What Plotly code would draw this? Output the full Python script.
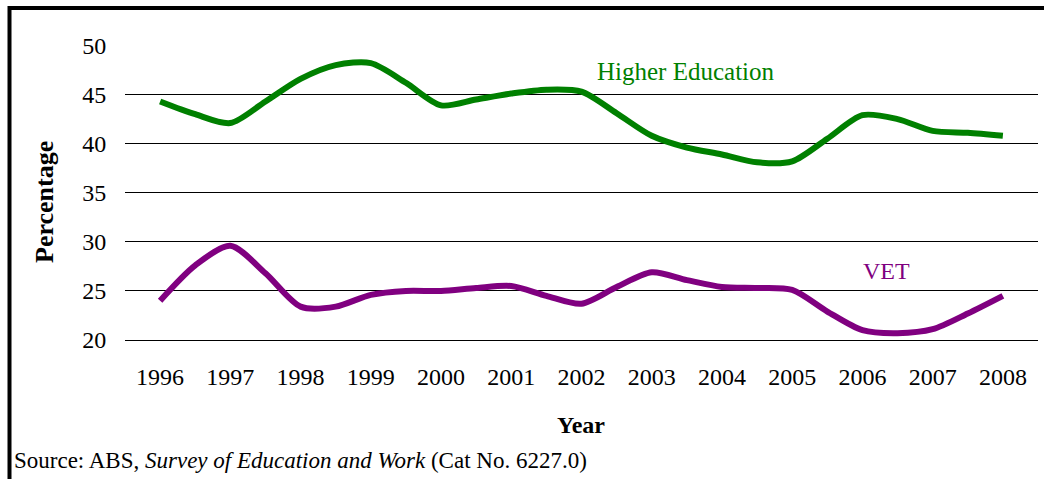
import plotly.graph_objects as go

years = [1996, 1996.5, 1997, 1997.5, 1998, 1998.5, 1999, 1999.5, 2000, 2000.5,
         2001, 2001.5, 2002, 2002.5, 2003, 2003.5, 2004, 2004.5, 2005, 2005.5,
         2006, 2006.5, 2007, 2007.5, 2008]
higher_education = [44.3, 43.0, 42.1, 44.3, 46.6, 48.0, 48.2, 46.2, 43.9, 44.5,
                    45.1, 45.5, 45.3, 43.1, 40.8, 39.6, 38.9, 38.1, 38.2, 40.5,
                    42.9, 42.5, 41.3, 41.1, 40.8]
vet = [24.0, 27.6, 29.6, 26.8, 23.4, 23.4, 24.6, 25.0, 25.0, 25.3,
       25.5, 24.5, 23.7, 25.4, 26.9, 26.1, 25.4, 25.3, 25.1, 22.9,
       21.0, 20.7, 21.1, 22.7, 24.5]
tick_years = list(range(1996, 2009))
y_ticks = [20, 25, 30, 35, 40, 45, 50]

GREEN = "#008000"
PURPLE = "#800080"
FONT = "Liberation Serif, Times New Roman, serif"

# pixel helpers for annotation/shape placement (plot area 125..1038 x 45..340)
def px_x(px):
    return (px - 125) / 913

def px_y(py):
    return (340 - py) / 295

fig = go.Figure()
fig.add_trace(go.Scatter(x=years, y=higher_education, mode="lines",
                         line=dict(color=GREEN, width=6, shape="spline", smoothing=0.8),
                         name="Higher Education", showlegend=False))
fig.add_trace(go.Scatter(x=years, y=vet, mode="lines",
                         line=dict(color=PURPLE, width=6, shape="spline", smoothing=0.8),
                         name="VET", showlegend=False))

fig.update_layout(
    width=1044, height=479,
    margin=dict(l=125, r=6, t=45, b=139),
    paper_bgcolor="white", plot_bgcolor="white",
    font=dict(family=FONT, color="black", size=24),
    xaxis=dict(range=[1995.5, 2008.5], tickmode="array", tickvals=tick_years,
               ticktext=[str(y) for y in tick_years], showgrid=False, zeroline=False,
               showline=True, linecolor="black", linewidth=1,
               ticks="outside", ticklen=15, tickcolor="rgba(0,0,0,0)",
               tickfont=dict(size=24, family=FONT)),
    yaxis=dict(range=[20, 50.05], tickmode="array", tickvals=y_ticks,
               showgrid=True, gridcolor="black", gridwidth=1, zeroline=False,
               showline=False, ticks="outside", ticklen=13, tickcolor="rgba(0,0,0,0)",
               tickfont=dict(size=24, family=FONT)),
    annotations=[
        dict(text="Higher Education", x=px_x(686), y=px_y(71), xref="paper", yref="paper",
             xanchor="center", yanchor="middle",
             showarrow=False, font=dict(size=25, color=GREEN, family=FONT)),
        dict(text="VET", x=px_x(886), y=px_y(271), xref="paper", yref="paper",
             xanchor="center", yanchor="middle",
             showarrow=False, font=dict(size=24, color=PURPLE, family=FONT)),
        dict(text="<b>Percentage</b>", x=px_x(44), y=px_y(202),
             xref="paper", yref="paper", textangle=-90, showarrow=False,
             xanchor="center", yanchor="middle",
             font=dict(size=26, family=FONT)),
        dict(text="<b>Year</b>", x=px_x(581), y=px_y(425),
             xref="paper", yref="paper", showarrow=False,
             xanchor="center", yanchor="middle",
             font=dict(size=24, family=FONT)),
        dict(text="Source: ABS, <i>Survey of Education and Work</i> (Cat No. 6227.0)",
             x=px_x(12), y=px_y(460), xref="paper", yref="paper",
             xanchor="left", yanchor="middle", showarrow=False,
             font=dict(size=23, family=FONT)),
    ],
    shapes=[
        dict(type="line", xref="paper", yref="paper",
             x0=px_x(9.5), x1=px_x(1044), y0=px_y(8), y1=px_y(8),
             line=dict(color="black", width=4)),
        dict(type="line", xref="paper", yref="paper",
             x0=px_x(9.5), x1=px_x(9.5), y0=px_y(6), y1=px_y(490),
             line=dict(color="black", width=4)),
    ],
)

fig.write_html("out.html")
